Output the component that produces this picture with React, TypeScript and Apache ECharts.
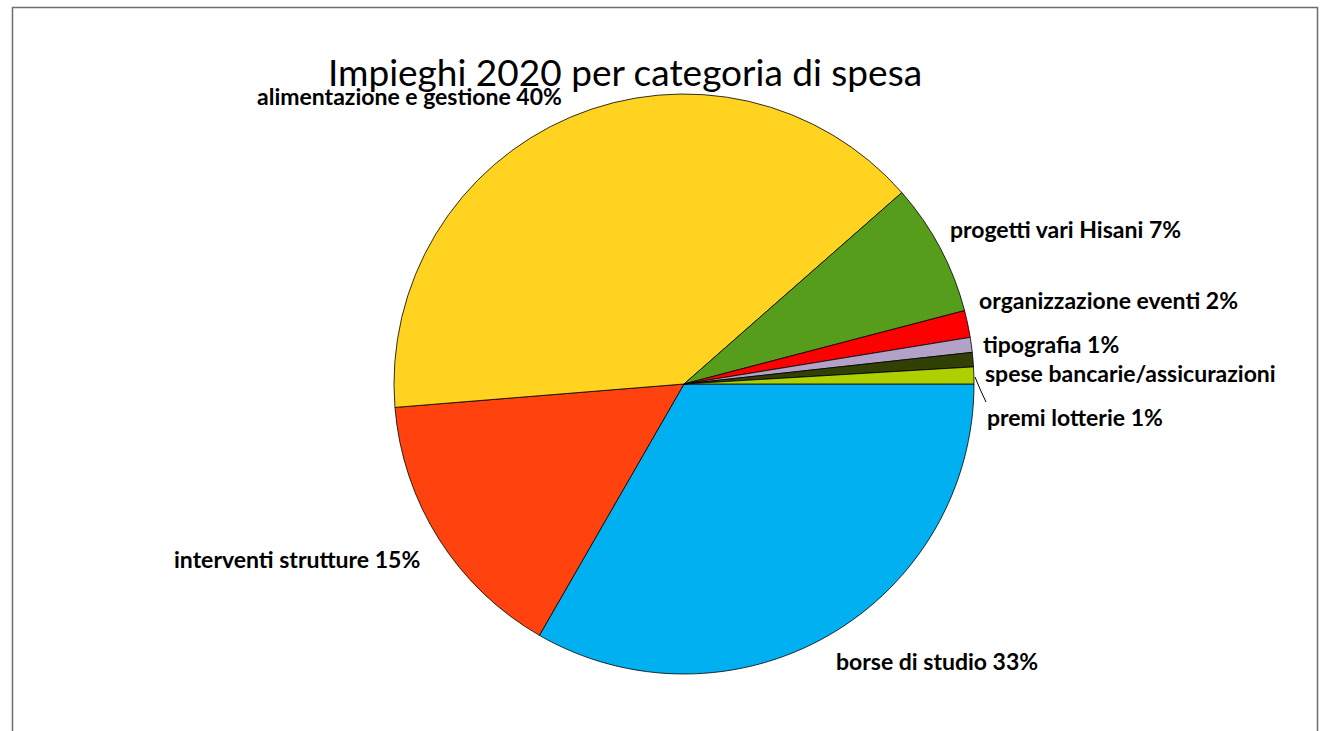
import React, { useEffect, useRef } from "react";
import * as echarts from "echarts";

const titleText = "Impieghi 2020 per categoria di spesa";
const categories = [
  "borse di studio",
  "interventi strutture",
  "alimentazione e gestione",
  "progetti vari Hisani",
  "organizzazione eventi",
  "tipografia",
  "spese bancarie/assicurazioni",
  "premi lotterie",
];
const values = [33.3, 15.4, 39.8, 7.4, 1.5, 0.83, 0.8, 0.94];
const labelTexts = [
  "borse di studio 33%",
  "interventi strutture 15%",
  "alimentazione e gestione 40%",
  "progetti vari Hisani 7%",
  "organizzazione eventi 2%",
  "tipografia 1%",
  "spese bancarie/assicurazioni",
  "premi lotterie 1%",
];
const colors = ["#00B0F0", "#FF420E", "#FFD320", "#579D1C", "#FF0000", "#B3A2C7", "#314004", "#AECF00"];

// label anchor positions (left edge, vertical middle)
const labelPos: [number, number][] = [
  [836, 661],
  [174, 559],
  [257, 96],
  [950, 229],
  [979, 300],
  [983, 344],
  [985, 373],
  [987, 417],
];

export default function App() {
  const ref = useRef<HTMLDivElement>(null);
  useEffect(() => {
    if (!ref.current) return;
    const chart = echarts.init(ref.current, undefined, { renderer: "svg" });
    chart.setOption({
      animation: false,
      backgroundColor: "#ffffff",
      graphic: [
        {
          type: "rect",
          shape: { x: 12.5, y: 7.5, width: 1305, height: 760 },
          style: { fill: "none", stroke: "#6e6e6e", lineWidth: 1.5 },
          z: 0,
        },
        {
          type: "text",
          x: 625,
          y: 71,
          z: 10,
          style: {
            text: titleText,
            font: "37px Lato",
            fill: "#000",
            textAlign: "center",
            textVerticalAlign: "middle",
          },
        },
      ],
      series: [
        {
          type: "pie",
          center: [684, 384],
          radius: 290,
          startAngle: 0,
          clockwise: true,
          avoidLabelOverlap: false,
          itemStyle: { borderColor: "#000", borderWidth: 0.8 },
          label: {
            show: true,
            position: "outside",
            formatter: (p: any) => labelTexts[p.dataIndex],
            fontFamily: "Lato",
            fontWeight: "bold",
            fontSize: 23,
            color: "#000",
          },
          labelLine: { show: false },
          emphasis: { disabled: true },
          labelLayout: (p: any) => {
            const [x, y] = labelPos[p.dataIndex];
            const out: any = { x, y, align: "left", verticalAlign: "middle" };
            if (p.dataIndex === 7) {
              out.labelLinePoints = [
                [975, 377],
                [980, 389],
                [986, 402],
              ];
            }
            return out;
          },
          data: categories.map((name, i) => ({
            name,
            value: values[i],
            itemStyle: { color: colors[i] },
            labelLine:
              i === 7
                ? { show: true, length: 5, length2: 5, lineStyle: { color: "#000", width: 1 } }
                : { show: false },
          })),
        },
      ],
    });
    return () => chart.dispose();
  }, []);
  return (
    <div
      ref={ref}
      style={{ position: "fixed", left: 0, top: 0, width: 1322, height: 731 }}
    />
  );
}
